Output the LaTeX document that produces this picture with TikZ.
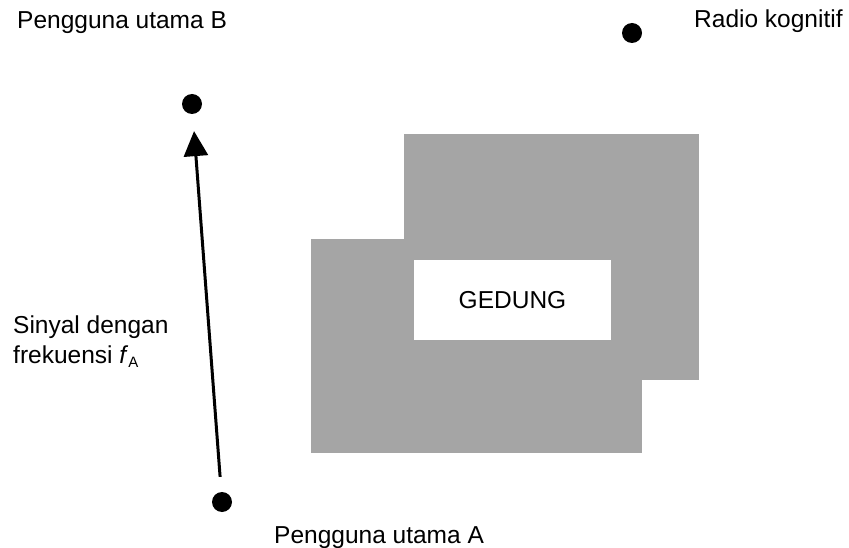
\documentclass[tikz,border=0pt]{standalone}
\usepackage{fontspec}
\setmainfont{Liberation Sans}
\usetikzlibrary{arrows.meta}
\definecolor{gedunggray}{HTML}{A5A5A5}
\begin{document}
\begin{tikzpicture}[x=1pt,y=-1pt,
  label text/.style={anchor=base west, inner sep=0pt, font=\fontsize{24.5}{30}\selectfont},
  user/.style={circle, fill=black, minimum size=20pt, inner sep=0pt},
  wing/.style={fill=gedunggray, draw=none},
  signal/.style={-{Triangle[width=24pt,length=25pt]}, line width=3pt}]
  \useasboundingbox (0,0) rectangle (849,548);

  % building: two overlapping grey wings with a white name plate
  \fill[wing] (404,134) rectangle (699,380);
  \fill[wing] (311,239) rectangle (642,453);
  \node[fill=white, minimum width=197pt, minimum height=80pt, inner sep=0pt,
        font=\fontsize{24.5}{30}\selectfont] (gedung) at (512.5,300) {GEDUNG};

  % users
  \node[user] (B) at (192,104) {};
  \node[user] (A) at (222,502) {};
  \node[user] (CR) at (632,33) {};

  % labels
  \node[label text] (labB) at (17,28.5) {Pengguna utama B};
  \node[label text] (labA) at (274,543) {Pengguna utama A};
  \node[label text] (labCR) at (694,27.5) {Radio kognitif};
  \node[label text] (sig1) at (13,333) {Sinyal dengan};
  \node[label text] (sig2) at (13,363) {frekuensi \textit{f}\raisebox{-0.35ex}{\fontsize{15}{15}\selectfont A}};

  % signal from A to B
  \draw[signal, shorten <=15pt, shorten >=17pt] (A) -- (B);
\end{tikzpicture}
\end{document}
